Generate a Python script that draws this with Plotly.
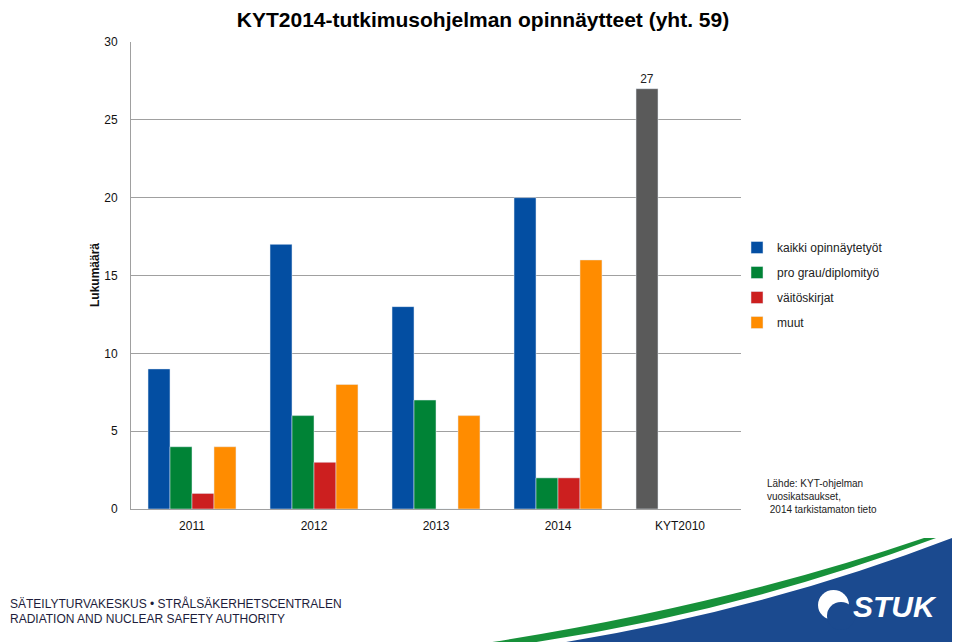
import plotly.graph_objects as go

# data
kategoriat = ['2011', '2012', '2013', '2014', 'KYT2010']
kaikki = [9, 17, 13, 20, 27]
pro_gradu = [4, 6, 7, 2, None]
vaitoskirjat = [1, 3, 0, 2, None]
muut = [4, 8, 6, 16, None]
kaikki_tekstit = ['', '', '', '', '27']
y_ticks = [0, 5, 10, 15, 20, 25, 30]

SININEN = '#034ea2'
VIHREA = '#008336'
PUNAINEN = '#cc1f1f'
ORANSSI = '#ff8c00'
HARMAA = '#5a5a5a'
LOGO_SININEN = '#1b4a8f'
FONT = 'Liberation Sans, Arial, sans-serif'

# selaimen body-marginaali 8px -> kuva on 8px pienempi
OFF = 8
W, H = 960 - OFF, 642 - OFF
# piirtoalue sivun pikseleinä
L, R, T, B = 131, 741, 42, 509


def px(x, y):
    # sivun pikselit -> paper-koordinaatit
    return (x - L) / (R - L), (B - y) / (B - T)


def polku(osat):
    out = ''
    for komento, pisteet in osat:
        out += komento
        for (x, y) in pisteet:
            a, b = px(x, y)
            out += f' {a:.4f},{b:.4f}'
        out += ' '
    return out + 'Z'


fig = go.Figure()
fig.add_trace(go.Bar(name='kaikki opinnäytetyöt', x=kategoriat, y=kaikki,
                     marker_color=[SININEN] * 4 + [HARMAA],
                     text=kaikki_tekstit, textposition='outside',
                     textfont=dict(size=12, color='#222'), cliponaxis=False,
                     legendgroup='a'))
fig.add_trace(go.Bar(name='pro grau/diplomityö', x=kategoriat, y=pro_gradu,
                     marker_color=VIHREA, legendgroup='b'))
fig.add_trace(go.Bar(name='väitöskirjat', x=kategoriat, y=vaitoskirjat,
                     marker_color=PUNAINEN, legendgroup='c'))
fig.add_trace(go.Bar(name='muut', x=kategoriat, y=muut,
                     marker_color=ORANSSI, legendgroup='d'))

# alareunan logo-alue
sininen_alue = polku([('M', [(560, 643)]), ('Q', [(765, 610), (952, 538)]),
                      ('L', [(956, 538)]), ('L', [(956, 643)])])
vihrea_raita = polku([('M', [(486, 643)]), ('Q', [(725, 606), (924, 538)]),
                      ('L', [(936, 538)]), ('Q', [(738, 612), (530, 643)])])

shapes = [
    dict(type='path', xref='paper', yref='paper', path=sininen_alue,
         fillcolor=LOGO_SININEN, line=dict(width=0), layer='below'),
    dict(type='path', xref='paper', yref='paper', path=vihrea_raita,
         fillcolor='#17913a', line=dict(width=0), layer='below'),
]
# STUK-symboli
cx0, cy0 = px(818, 590)
cx1, cy1 = px(849, 620)
shapes.append(dict(type='circle', xref='paper', yref='paper', x0=cx0, y0=cy0,
                   x1=cx1, y1=cy1, fillcolor='white', line=dict(width=0)))
bx0, by0 = px(827, 602)
bx1, by1 = px(855, 630)
shapes.append(dict(type='circle', xref='paper', yref='paper', x0=bx0, y0=by0,
                   x1=bx1, y1=by1, fillcolor=LOGO_SININEN, line=dict(width=0)))

annotations = []
ax, ay = px(95, 275)
annotations.append(dict(text='<b>Lukumäärä</b>', x=ax, y=ay, xref='paper', yref='paper',
                        xanchor='center', yanchor='middle',
                        textangle=-90, showarrow=False,
                        font=dict(size=12, family=FONT, color='#111')))
nx, ny = px(765, 496)
annotations.append(dict(text='Lähde: KYT-ohjelman<br>vuosikatsaukset,<br> 2014 tarkistamaton tieto',
                        x=nx, y=ny, xref='paper', yref='paper', xanchor='left',
                        yanchor='middle', align='left', showarrow=False,
                        font=dict(size=10, family=FONT, color='#222')))
for rivi, yy in [('SÄTEILYTURVAKESKUS • STRÅLSÄKERHETSCENTRALEN', 603),
                 ('RADIATION AND NUCLEAR SAFETY AUTHORITY', 619)]:
    fx, fy = px(8, yy)
    annotations.append(dict(text=rivi, x=fx, y=fy, xref='paper', yref='paper',
                            xanchor='left', yanchor='middle', showarrow=False,
                            font=dict(size=12, family=FONT, color='#1d1d3b')))
sx, sy = px(895, 606)
annotations.append(dict(text='<b><i>STUK</i></b>', x=sx, y=sy, xref='paper', yref='paper',
                        xanchor='center', yanchor='middle', showarrow=False,
                        font=dict(size=30, family=FONT, color='white')))

fig.update_layout(
    width=W, height=H,
    margin=dict(l=L - OFF, r=W - (R - OFF), t=T - OFF, b=H - (B - OFF)),
    paper_bgcolor='white', plot_bgcolor='white',
    title=dict(text='<b>KYT2014-tutkimusohjelman opinnäytteet (yht. 59)</b>',
               xref='container', x=(483 - OFF) / W, xanchor='center',
               yref='container', y=1 - (20 - OFF) / H, yanchor='middle',
               font=dict(size=21, family=FONT, color='#000')),
    barmode='group', bargap=0.279, bargroupgap=0,
    font=dict(family=FONT, size=12, color='#222'),
    legend=dict(x=(737 - L) / (R - L), y=(509 - 233) / (B - T), xanchor='left', yanchor='top',
                traceorder='grouped', tracegroupgap=6,
                font=dict(size=12, family=FONT, color='#222'), bgcolor='rgba(0,0,0,0)'),
    xaxis=dict(showline=True, linecolor='#a0a0a0', linewidth=1, showgrid=False,
               ticks='outside', ticklen=6, tickcolor='rgba(0,0,0,0)',
               tickfont=dict(size=12, family=FONT, color='#111')),
    yaxis=dict(range=[0, 30], tickvals=y_ticks, showline=True, linecolor='#a0a0a0',
               linewidth=1, showgrid=True, gridcolor='#a0a0a0', gridwidth=1,
               zeroline=False, ticks='outside', ticklen=10, tickcolor='rgba(0,0,0,0)',
               tickfont=dict(size=12, family=FONT, color='#111')),
    shapes=shapes,
    annotations=annotations,
)

fig.write_html('out.html')
